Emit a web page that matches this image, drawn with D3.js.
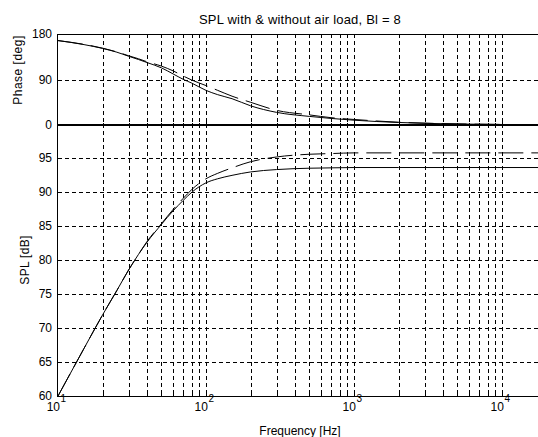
<!DOCTYPE html>
<html><head><meta charset="utf-8">
<script src="https://cdn.jsdelivr.net/npm/d3@7"></script>
<style>body{margin:0;background:#fff;overflow:hidden}</style>
</head><body><svg id="c" width="538" height="437"></svg>
<script>
// Data
const freq          = [10, 15, 20, 25, 30, 35, 40, 50, 60, 70, 80, 100, 120, 150, 200, 300, 500, 700, 1000, 2000, 5000, 10000, 20000];
const phaseWith     = [167, 159, 151.5, 144, 136, 129.5, 123.5, 113, 101, 90.5, 83, 68.5, 60, 52, 38, 25, 17, 13, 9.5, 5, 2, 1, 0.5];
const phaseWithout  = [167, 159.5, 152, 144.5, 137, 131, 125, 116.5, 107, 97, 89, 78, 68.5, 57, 45, 29, 20, 14.5, 11, 5.5, 2.2, 1.1, 0.5];
const splWith       = [60, 67, 71.9, 75.5, 78.5, 80.8, 82.6, 85.2, 87.2, 88.7, 89.9, 91.3, 91.9, 92.4, 92.9, 93.25, 93.45, 93.5, 93.55, 93.55, 93.55, 93.55, 93.55];
const splWithout    = [60, 67, 71.9, 75.5, 78.5, 80.8, 82.7, 85.3, 87.4, 89.0, 90.3, 91.9, 92.7, 93.5, 94.4, 95.1, 95.5, 95.6, 95.7, 95.7, 95.7, 95.7, 95.7];
const phaseTicks    = [0, 90, 180];
const splTicks      = [60, 65, 70, 75, 80, 85, 90, 95];
const splDomain     = [60, 100];
const phaseDomain   = [0, 180];
const freqDomain    = [10, 20000];
const decades       = [10, 100, 1000, 10000];
const decadeExp     = ["1", "2", "3", "4"];
const titleText     = "SPL with & without air load, Bl = 8";

const svg = d3.select("#c");
const L = 58, R = 546.5;
const x = d3.scaleLog().domain(freqDomain).range([L, R]);
const yP = d3.scaleLinear().domain(phaseDomain).range([125, 34]);
const yS = d3.scaleLinear().domain(splDomain).range([396, 123.6]);

const font = "'Liberation Sans', Arial, sans-serif";

const defs = svg.append("defs");
defs.append("clipPath").attr("id","cp").append("rect").attr("x",L).attr("y",yP(180)).attr("width",R-L).attr("height",yP(0)-yP(180));
defs.append("clipPath").attr("id","cs").append("rect").attr("x",L).attr("y",yS(100)).attr("width",R-L).attr("height",yS(60)-yS(100));

const vgrid = [];
decades.forEach(d => { for (let m = 1; m <= 9; m++) vgrid.push(d*m); });
vgrid.push(20000);

function drawPanel(y, yTicks, topY, botY) {
  const g = svg.append("g").attr("shape-rendering","crispEdges");
  g.selectAll(null).data(yTicks).enter().append("line")
    .attr("x1", L).attr("x2", R)
    .attr("y1", d => Math.round(y(d))+0.5).attr("y2", d => Math.round(y(d))+0.5)
    .attr("stroke", "#000").attr("stroke-dasharray", "4,3");
  const vv = vgrid.filter(v => v > freqDomain[0] && v < freqDomain[1]);
  g.selectAll(null).data(vv).enter().append("line")
    .attr("x1", d => Math.round(x(d))+0.5).attr("x2", d => Math.round(x(d))+0.5)
    .attr("y1", topY).attr("y2", botY)
    .attr("stroke", "#000").attr("stroke-dasharray", "4,3");
  g.selectAll(null).data(vv).enter().append("line")
    .attr("x1", d => Math.round(x(d))+0.5).attr("x2", d => Math.round(x(d))+0.5)
    .attr("y1", botY).attr("y2", d => botY - (decades.includes(d) ? 4 : 2))
    .attr("stroke", "#000");
}

drawPanel(yS, splTicks.concat([100]), yS(100), yS(60));
drawPanel(yP, [90], yP(180), yP(0));

const ax = svg.append("g").attr("shape-rendering","crispEdges").attr("stroke","#000");
ax.append("line").attr("x1",L-0.5).attr("x2",L-0.5).attr("y1",yP(180)).attr("y2",yS(60)+0.5);
ax.append("line").attr("x1",L).attr("x2",538).attr("y1",Math.round(yP(180))+0.5).attr("y2",Math.round(yP(180))+0.5);
ax.append("line").attr("x1",L).attr("x2",538).attr("y1",Math.round(yS(60))+0.5).attr("y2",Math.round(yS(60))+0.5);
[[yP, phaseTicks],[yS, splTicks]].forEach(([y, t]) => {
  ax.selectAll(null).data(t).enter().append("line")
    .attr("x1", L).attr("x2", L+4)
    .attr("y1", d => Math.round(y(d))+0.5).attr("y2", d => Math.round(y(d))+0.5);
});

const linePhase = (vals) => d3.line().x((d,i)=>x(freq[i])).y(d=>yP(d)).curve(d3.curveMonotoneX)(vals);
const lineSpl = (vals) => d3.line().x((d,i)=>x(freq[i])).y(d=>yS(d)).curve(d3.curveMonotoneX)(vals);
const cg1 = svg.append("g").attr("clip-path","url(#cp)");
cg1.append("path").attr("d", linePhase(phaseWithout)).attr("fill","none").attr("stroke","#000").attr("stroke-dasharray","25,8");
cg1.append("path").attr("d", linePhase(phaseWith)).attr("fill","none").attr("stroke","#000");
const cg2 = svg.append("g").attr("clip-path","url(#cs)");
cg2.append("path").attr("d", lineSpl(splWithout)).attr("fill","none").attr("stroke","#000").attr("stroke-dasharray","25,8");
cg2.append("path").attr("d", lineSpl(splWith)).attr("fill","none").attr("stroke","#000");
svg.append("line").attr("x1",L).attr("x2",538).attr("y1",124.5).attr("y2",124.5).attr("stroke","#000").attr("stroke-width",2).attr("shape-rendering","crispEdges");

const tl = svg.append("g").attr("font-family", font).attr("font-size", 12).attr("fill","#000");
tl.selectAll(null).data(phaseTicks).enter().append("text")
  .attr("x", 52).attr("y", d => yP(d)).attr("dy","0.36em").attr("text-anchor","end").text(d => d);
tl.selectAll(null).data(splTicks).enter().append("text")
  .attr("x", 52).attr("y", d => yS(d)).attr("dy","0.36em").attr("text-anchor","end").text(d => d);
tl.selectAll(null).data(decades).enter().append("text")
  .attr("x", d => x(d)+2).attr("y", 411).attr("text-anchor","end").text("10");
tl.selectAll(null).data(decades).enter().append("text")
  .attr("x", d => x(d)+2.5).attr("y", 402).attr("font-size", 10).attr("text-anchor","start").text((d,i) => decadeExp[i]);

svg.append("text").attr("x", 300).attr("y", 24).attr("text-anchor","middle")
  .attr("font-family", font).attr("font-size", 13).attr("letter-spacing", 0.2).text(titleText);
svg.append("text").attr("x", 300).attr("y", 435).attr("text-anchor","middle")
  .attr("font-family", font).attr("font-size", 12).text("Frequency [Hz]");
svg.append("text").attr("transform","translate(22,70) rotate(-90)").attr("text-anchor","middle")
  .attr("font-family", font).attr("font-size", 12).attr("letter-spacing", 0.5).text("Phase [deg]");
svg.append("text").attr("transform","translate(29,260) rotate(-90)").attr("text-anchor","middle")
  .attr("font-family", font).attr("font-size", 12).attr("letter-spacing", 0.3).text("SPL [dB]");
</script></body></html>
